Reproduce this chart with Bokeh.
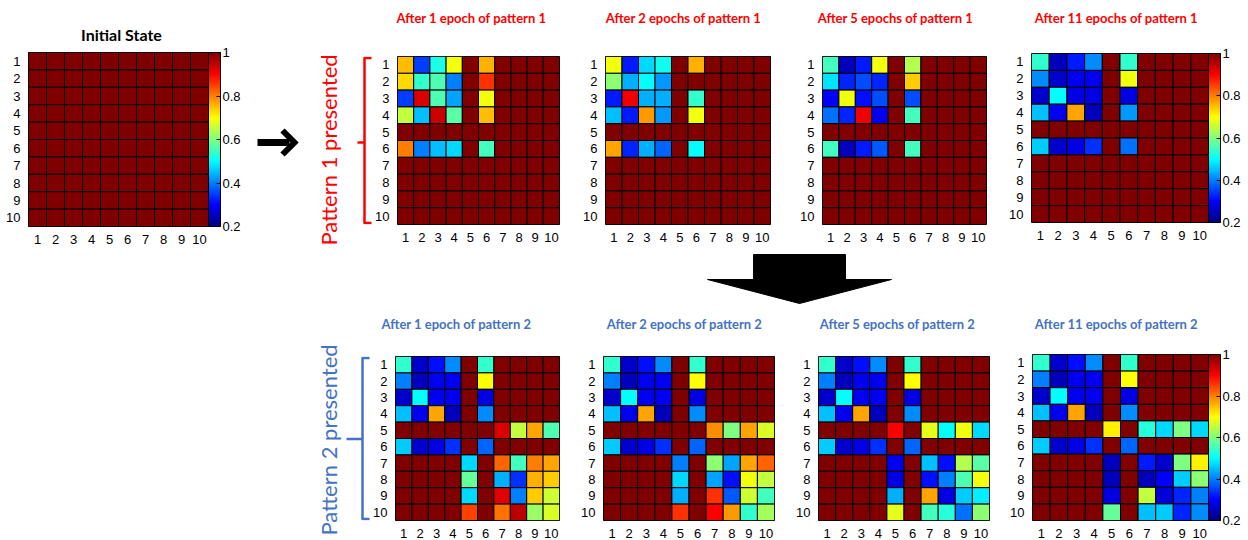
import math
from bokeh.plotting import figure
from bokeh.layouts import row, column
from bokeh.models import (ColumnDataSource, LinearColorMapper, ColorBar, FixedTicker,
                          Range1d, CustomJSTickFormatter, Title, Spacer)
from bokeh.core.properties import value
from bokeh.embed import file_html
from bokeh.resources import INLINE

# ---------------- data ----------------
ROWS = [1, 2, 3, 4, 5, 6, 7, 8, 9, 10]
COLS = [1, 2, 3, 4, 5, 6, 7, 8, 9, 10]
CB_TICKS = [0.2, 0.4, 0.6, 0.8, 1.0]
VMIN, VMAX = 0.2, 1.0

INITIAL_TITLE = "Initial State"
TOP_TITLES = ["After 1 epoch of pattern 1", "After 2 epochs of pattern 1",
              "After 5 epochs of pattern 1", "After 11 epochs of pattern 1"]
BOTTOM_TITLES = ["After 1 epoch of pattern 2", "After 2 epochs of pattern 2",
                 "After 5 epochs of pattern 2", "After 11 epochs of pattern 2"]
SIDE_LABELS = ["Pattern 1 presented", "Pattern 2 presented"]

initial_state = [
    [1, 1, 1, 1, 1, 1, 1, 1, 1, 1],
    [1, 1, 1, 1, 1, 1, 1, 1, 1, 1],
    [1, 1, 1, 1, 1, 1, 1, 1, 1, 1],
    [1, 1, 1, 1, 1, 1, 1, 1, 1, 1],
    [1, 1, 1, 1, 1, 1, 1, 1, 1, 1],
    [1, 1, 1, 1, 1, 1, 1, 1, 1, 1],
    [1, 1, 1, 1, 1, 1, 1, 1, 1, 1],
    [1, 1, 1, 1, 1, 1, 1, 1, 1, 1],
    [1, 1, 1, 1, 1, 1, 1, 1, 1, 1],
    [1, 1, 1, 1, 1, 1, 1, 1, 1, 1],
]

p1_epoch1 = [
    [0.75, 0.35, 0.52, 0.69, 1, 0.76, 1, 1, 1, 1],
    [0.73, 0.54, 0.56, 0.40, 1, 0.86, 1, 1, 1, 1],
    [0.35, 0.93, 0.56, 0.43, 1, 0.69, 1, 1, 1, 1],
    [0.65, 0.45, 0.94, 0.57, 1, 0.75, 1, 1, 1, 1],
    [1, 1, 1, 1, 1, 1, 1, 1, 1, 1],
    [0.80, 0.40, 0.45, 0.47, 1, 0.55, 1, 1, 1, 1],
    [1, 1, 1, 1, 1, 1, 1, 1, 1, 1],
    [1, 1, 1, 1, 1, 1, 1, 1, 1, 1],
    [1, 1, 1, 1, 1, 1, 1, 1, 1, 1],
    [1, 1, 1, 1, 1, 1, 1, 1, 1, 1],
]

p1_epoch2 = [
    [0.69, 0.32, 0.47, 0.51, 1, 0.76, 1, 1, 1, 1],
    [0.61, 0.44, 0.50, 0.42, 1, 1, 1, 1, 1, 1],
    [0.32, 0.91, 0.44, 0.44, 1, 0.54, 1, 1, 1, 1],
    [0.45, 0.32, 0.78, 0.42, 1, 0.69, 1, 1, 1, 1],
    [1, 1, 1, 1, 1, 1, 1, 1, 1, 1],
    [0.77, 0.33, 0.44, 0.38, 1, 0.50, 1, 1, 1, 1],
    [1, 1, 1, 1, 1, 1, 1, 1, 1, 1],
    [1, 1, 1, 1, 1, 1, 1, 1, 1, 1],
    [1, 1, 1, 1, 1, 1, 1, 1, 1, 1],
    [1, 1, 1, 1, 1, 1, 1, 1, 1, 1],
]

p1_epoch5 = [
    [0.55, 0.25, 0.32, 0.69, 1, 0.64, 1, 1, 1, 1],
    [0.48, 0.33, 0.36, 0.33, 1, 0.74, 1, 1, 1, 1],
    [0.30, 0.69, 0.31, 0.36, 1, 0.36, 1, 1, 1, 1],
    [0.39, 0.33, 0.91, 0.29, 1, 0.55, 1, 1, 1, 1],
    [1, 1, 1, 1, 1, 1, 1, 1, 1, 1],
    [0.55, 0.25, 0.32, 0.37, 1, 0.55, 1, 1, 1, 1],
    [1, 1, 1, 1, 1, 1, 1, 1, 1, 1],
    [1, 1, 1, 1, 1, 1, 1, 1, 1, 1],
    [1, 1, 1, 1, 1, 1, 1, 1, 1, 1],
    [1, 1, 1, 1, 1, 1, 1, 1, 1, 1],
]

p1_epoch11 = [
    [0.54, 0.25, 0.32, 0.41, 1, 0.54, 1, 1, 1, 1],
    [0.41, 0.26, 0.29, 0.29, 1, 0.69, 1, 1, 1, 1],
    [0.26, 0.50, 0.28, 0.28, 1, 0.28, 1, 1, 1, 1],
    [0.45, 0.29, 0.77, 0.25, 1, 0.42, 1, 1, 1, 1],
    [1, 1, 1, 1, 1, 1, 1, 1, 1, 1],
    [0.46, 0.26, 0.28, 0.34, 1, 0.39, 1, 1, 1, 1],
    [1, 1, 1, 1, 1, 1, 1, 1, 1, 1],
    [1, 1, 1, 1, 1, 1, 1, 1, 1, 1],
    [1, 1, 1, 1, 1, 1, 1, 1, 1, 1],
    [1, 1, 1, 1, 1, 1, 1, 1, 1, 1],
]

p2_epoch1 = [
    [0.54, 0.26, 0.31, 0.41, 1, 0.54, 1, 1, 1, 1],
    [0.40, 0.25, 0.29, 0.29, 1, 0.70, 1, 1, 1, 1],
    [0.26, 0.50, 0.29, 0.29, 1, 0.28, 1, 1, 1, 1],
    [0.45, 0.29, 0.77, 0.25, 1, 0.41, 1, 1, 1, 1],
    [1, 1, 1, 1, 1, 1, 0.93, 0.65, 0.77, 0.56],
    [0.46, 0.26, 0.28, 0.34, 1, 0.38, 1, 1, 1, 1],
    [1, 1, 1, 1, 0.47, 1, 0.82, 0.55, 0.80, 0.77],
    [1, 1, 1, 1, 0.58, 1, 0.44, 0.34, 0.76, 0.74],
    [1, 1, 1, 1, 0.47, 1, 0.92, 0.40, 0.74, 0.66],
    [1, 1, 1, 1, 0.85, 1, 0.81, 0.95, 0.62, 0.67],
]

p2_epoch2 = [
    [0.54, 0.26, 0.31, 0.41, 1, 0.54, 1, 1, 1, 1],
    [0.40, 0.25, 0.29, 0.29, 1, 0.70, 1, 1, 1, 1],
    [0.26, 0.50, 0.29, 0.29, 1, 0.28, 1, 1, 1, 1],
    [0.45, 0.29, 0.77, 0.25, 1, 0.41, 1, 1, 1, 1],
    [1, 1, 1, 1, 1, 1, 0.79, 0.60, 0.77, 0.67],
    [0.46, 0.26, 0.28, 0.34, 1, 0.38, 1, 1, 1, 1],
    [1, 1, 1, 1, 0.40, 1, 0.61, 0.43, 0.77, 0.82],
    [1, 1, 1, 1, 0.47, 1, 0.43, 0.31, 0.69, 0.65],
    [1, 1, 1, 1, 0.44, 1, 0.86, 0.37, 0.66, 0.55],
    [1, 1, 1, 1, 0.86, 1, 0.90, 0.78, 0.54, 0.63],
]

p2_epoch5 = [
    [0.54, 0.26, 0.31, 0.41, 1, 0.54, 1, 1, 1, 1],
    [0.40, 0.25, 0.29, 0.29, 1, 0.70, 1, 1, 1, 1],
    [0.26, 0.50, 0.29, 0.29, 1, 0.28, 1, 1, 1, 1],
    [0.45, 0.29, 0.77, 0.25, 1, 0.41, 1, 1, 1, 1],
    [1, 1, 1, 1, 0.90, 1, 0.68, 0.50, 0.69, 0.47],
    [0.46, 0.26, 0.28, 0.34, 1, 0.38, 1, 1, 1, 1],
    [1, 1, 1, 1, 0.29, 1, 0.45, 0.31, 0.64, 0.57],
    [1, 1, 1, 1, 0.28, 1, 0.31, 0.40, 0.56, 0.69],
    [1, 1, 1, 1, 0.44, 1, 0.77, 0.28, 0.46, 0.49],
    [1, 1, 1, 1, 0.68, 1, 0.55, 0.53, 0.39, 0.61],
]

p2_epoch11 = [
    [0.54, 0.26, 0.31, 0.41, 1, 0.54, 1, 1, 1, 1],
    [0.40, 0.25, 0.29, 0.29, 1, 0.70, 1, 1, 1, 1],
    [0.26, 0.50, 0.29, 0.29, 1, 0.28, 1, 1, 1, 1],
    [0.45, 0.29, 0.77, 0.25, 1, 0.41, 1, 1, 1, 1],
    [1, 1, 1, 1, 0.71, 1, 0.53, 0.47, 0.60, 0.47],
    [0.46, 0.26, 0.28, 0.34, 1, 0.38, 1, 1, 1, 1],
    [1, 1, 1, 1, 0.25, 1, 0.32, 0.26, 0.60, 0.71],
    [1, 1, 1, 1, 0.25, 1, 0.25, 0.30, 0.46, 0.61],
    [1, 1, 1, 1, 0.28, 1, 0.65, 0.27, 0.33, 0.40],
    [1, 1, 1, 1, 0.58, 1, 0.45, 0.46, 0.33, 0.41],
]

# ---------------- styling / layout constants ----------------
RED = "#FF0000"
BLUE = "#4472C4"
TICK_FONT = "Liberation Sans"
TITLE_FONT = "Lato"

# centres (page px) of the panel titles
INIT_TITLE_XY = (121, 34)
TOP_TITLE_X = [471, 683, 895, 1116]
TOP_TITLE_Y = 17
BOT_TITLE_X = [456, 684, 897, 1116]
BOT_TITLE_Y = 323


def jet_palette(n=256):
    cols = []
    for i in range(n):
        t = i / (n - 1)
        r = min(max(1.5 - abs(4 * t - 3), 0), 1)
        g = min(max(1.5 - abs(4 * t - 2), 0), 1)
        b = min(max(1.5 - abs(4 * t - 1), 0), 1)
        cols.append("#%02x%02x%02x" % (round(r * 255), round(g * 255), round(b * 255)))
    return cols


JET = jet_palette()
MAPPER = LinearColorMapper(palette=JET, low=VMIN, high=VMAX)


def heatmap(mat, W, H, L, R, T, B, cbar=False):
    p = figure(width=W, height=H, x_range=Range1d(0.5, 10.5), y_range=Range1d(10.5, 0.5),
               toolbar_location=None, output_backend="svg",
               min_border_left=L, min_border_right=R, min_border_top=T, min_border_bottom=B)
    xs, ys, vs = [], [], []
    for i, rvals in enumerate(mat):
        for j, v in enumerate(rvals):
            xs.append(COLS[j])
            ys.append(ROWS[i])
            vs.append(v)
    src = ColumnDataSource(dict(x=xs, y=ys, v=vs))
    p.rect(x="x", y="y", width=1, height=1, source=src,
           fill_color={"field": "v", "transform": MAPPER},
           line_color="black", line_width=1)
    for ax in (p.xaxis[0], p.yaxis[0]):
        ax.ticker = FixedTicker(ticks=COLS)
        ax.axis_line_color = None
        ax.major_tick_line_color = None
        ax.minor_tick_line_color = None
        ax.major_label_standoff = 2
        ax.major_label_text_font = TICK_FONT
        ax.major_label_text_font_size = "13px"
        ax.major_label_text_color = "black"
    p.grid.visible = False
    p.outline_line_color = "black"
    if cbar:
        cb = ColorBar(color_mapper=MAPPER, ticker=FixedTicker(ticks=CB_TICKS),
                      formatter=CustomJSTickFormatter(code="return String(Math.round(tick*10)/10)"),
                      location="top_left",
                      width=12, padding=0, margin=5, label_standoff=2,
                      major_tick_in=4, major_tick_out=0, major_tick_line_color="black",
                      minor_tick_line_color=None,
                      bar_line_color="black", border_line_color=None,
                      background_fill_color=None,
                      major_label_text_font=TICK_FONT, major_label_text_font_size="13px",
                      major_label_text_color="black")
        p.add_layout(cb, "right")
    return p


def canvas(W, H, x_start, x_end, y_bottom, y_top, L=0, R=0, T=0, B=0):
    p = figure(width=W, height=H, x_range=Range1d(x_start, x_end), y_range=Range1d(y_bottom, y_top),
               toolbar_location=None, output_backend="svg",
               min_border_left=L, min_border_right=R, min_border_top=T, min_border_bottom=B,
               x_axis_location=None, y_axis_location=None)
    p.grid.visible = False
    p.outline_line_color = None
    return p


def band_text(p, xs, ys, texts, color, size):
    p.text(x=xs, y=ys, text=texts, text_align="center", text_baseline="middle",
           text_font=value(TITLE_FONT), text_font_style="bold", text_font_size=size,
           text_color=color)


# ---------------- top title band (page y 0..44) ----------------
band_top = canvas(1248, 44, 0, 1248, 44, 0)
band_text(band_top, [INIT_TITLE_XY[0]], [INIT_TITLE_XY[1]], [INITIAL_TITLE], "black", "16px")
band_text(band_top, TOP_TITLE_X, [TOP_TITLE_Y] * 4, TOP_TITLES, RED, "13px")

# ---------------- top row (page y 44..246), frames at y 56..224 ----------------
TH, TT, TB = 202, 12, 22
init_fig = heatmap(initial_state, 256, TH, 28, 48, 8, 17, cbar=True)

arrow_fig = canvas(49, TH, 256, 305, 224, 56, T=TT, B=TB)
arrow_fig.line([257, 289], [142, 142], line_width=7, color="black")
arrow_fig.line([282, 294, 282], [130, 142, 154], line_width=6, color="black", line_join="miter")

lab1 = canvas(67, TH, 345, 372, 224, 56, L=40, T=TT, B=TB)
lab1.add_layout(Title(text=SIDE_LABELS[0], align="left", offset=-21, standoff=8,
                      text_font=TITLE_FONT, text_font_style="normal", text_font_size="22px",
                      text_color=RED), "left")
lab1.multi_line(xs=[[371, 364, 364, 371], [357, 364]], ys=[[57.5, 57.5, 222.5, 222.5], [142, 142]],
                line_width=2.5, color=RED, line_join="round")

hm1 = heatmap(p1_epoch1, 208, TH, 17, 21, TT, TB)
hm2 = heatmap(p1_epoch2, 217, TH, 20, 27, TT, TB)
hm3 = heatmap(p1_epoch5, 209, TH, 20, 20, TT, TB)
hm4 = heatmap(p1_epoch11, 242, TH, 25, 40, 9, 24, cbar=True)

# ---------------- middle band (page y 246..338) ----------------
mid = canvas(1248, 92, 0, 1248, 338, 246)
mid.patch([753, 845, 845, 891, 799, 707, 753], [254, 254, 279, 279, 303, 279, 279], color="black")
band_text(mid, BOT_TITLE_X, [BOT_TITLE_Y] * 4, BOTTOM_TITLES, BLUE, "13px")

# ---------------- bottom row (page y 338..540), frames at y 356..523 ----------------
BH, BT, BB = 202, 18, 17
lab2 = canvas(65, BH, 345, 370, 523, 356, L=40, T=BT, B=BB)
lab2.add_layout(Title(text=SIDE_LABELS[1], align="left", offset=-15, standoff=8,
                      text_font=TITLE_FONT, text_font_style="normal", text_font_size="22px",
                      text_color=BLUE), "left")
lab2.multi_line(xs=[[369, 362, 362, 369], [346, 362]], ys=[[357.5, 357.5, 521.5, 521.5], [440, 440]],
                line_width=2.5, color=BLUE, line_join="round")

hm5 = heatmap(p2_epoch1, 208, BH, 17, 19, BT, BB)
hm6 = heatmap(p2_epoch2, 215, BH, 20, 19, BT, BB)
hm7 = heatmap(p2_epoch5, 214, BH, 20, 18, BT, BB)
hm8 = heatmap(p2_epoch11, 241, BH, 20, 40, 16, 16, cbar=True)

layout = column(
    band_top,
    row(column(init_fig), arrow_fig, lab1, hm1, hm2, hm3, column(hm4), spacing=0),
    mid,
    row(Spacer(width=305, height=BH), lab2, hm5, hm6, hm7, column(hm8), spacing=0),
    spacing=0,
)

open("out.html", "w").write(file_html(layout, INLINE))
